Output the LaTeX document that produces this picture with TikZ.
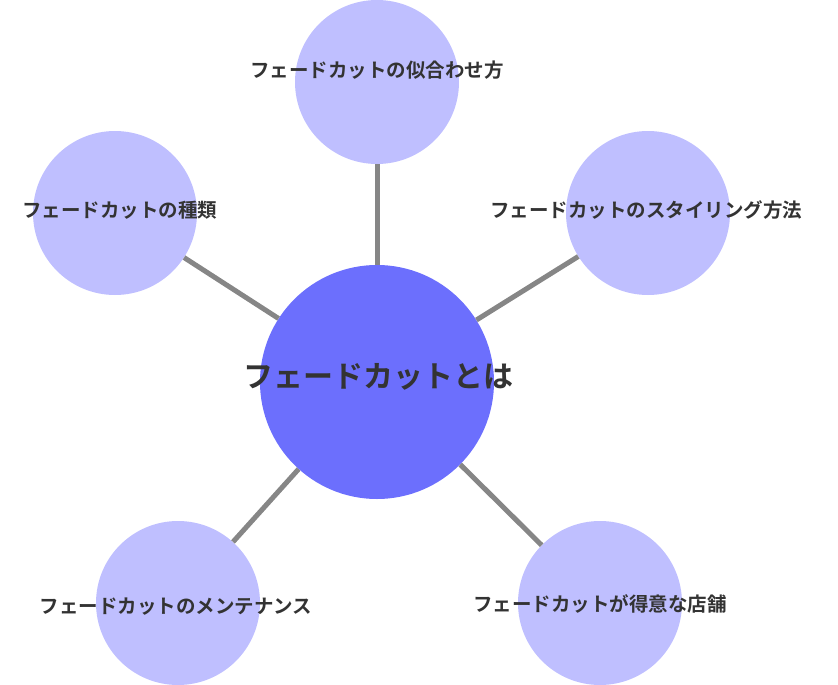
\documentclass[tikz,border=0pt]{standalone}
\usepackage{fontspec}
\newfontfamily\cjk{Noto Sans CJK JP}[BoldFont={* Bold}]
\begin{document}
\begin{tikzpicture}[x=1pt,y=-1pt,
  sat/.style={circle,fill=sat,minimum size=164pt,inner sep=0pt},
  lbl/.style={font=\cjk\bfseries\fontsize{19.5}{22}\selectfont,text=txt,inner sep=0pt},
  conn/.style={draw=gray!95,line width=5pt}]
\definecolor{sat}{HTML}{BFBFFF}
\definecolor{main}{HTML}{6C6FFD}
\definecolor{txt}{HTML}{333333}
\useasboundingbox (0,0) rectangle (838,685);
\node[circle,fill=main,minimum size=234pt,inner sep=0pt] (c) at (377,382) {};
\node[sat] (s1) at (377,82) {};
\node[sat] (s2) at (115,213) {};
\node[sat] (s3) at (648,213) {};
\node[sat] (s4) at (178,603) {};
\node[sat] (s5) at (600,603) {};
\foreach \s in {s1,s2,s3,s4,s5} \draw[conn] (c) -- (\s);
\node[lbl,font=\cjk\bfseries\fontsize{30}{34}\selectfont] (t0) at (378,377) {フェードカットとは};
\node[lbl] (t1) at (377,70) {フェードカットの似合わせ方};
\node[lbl] (t2) at (120,210) {フェードカットの種類};
\node[lbl] (t3) at (646,210) {フェードカットのスタイリング方法};
\node[lbl] (t4) at (176,607) {フェードカットのメンテナンス};
\node[lbl] (t5) at (600,604) {フェードカットが得意な店舗};
\end{tikzpicture}
\end{document}
